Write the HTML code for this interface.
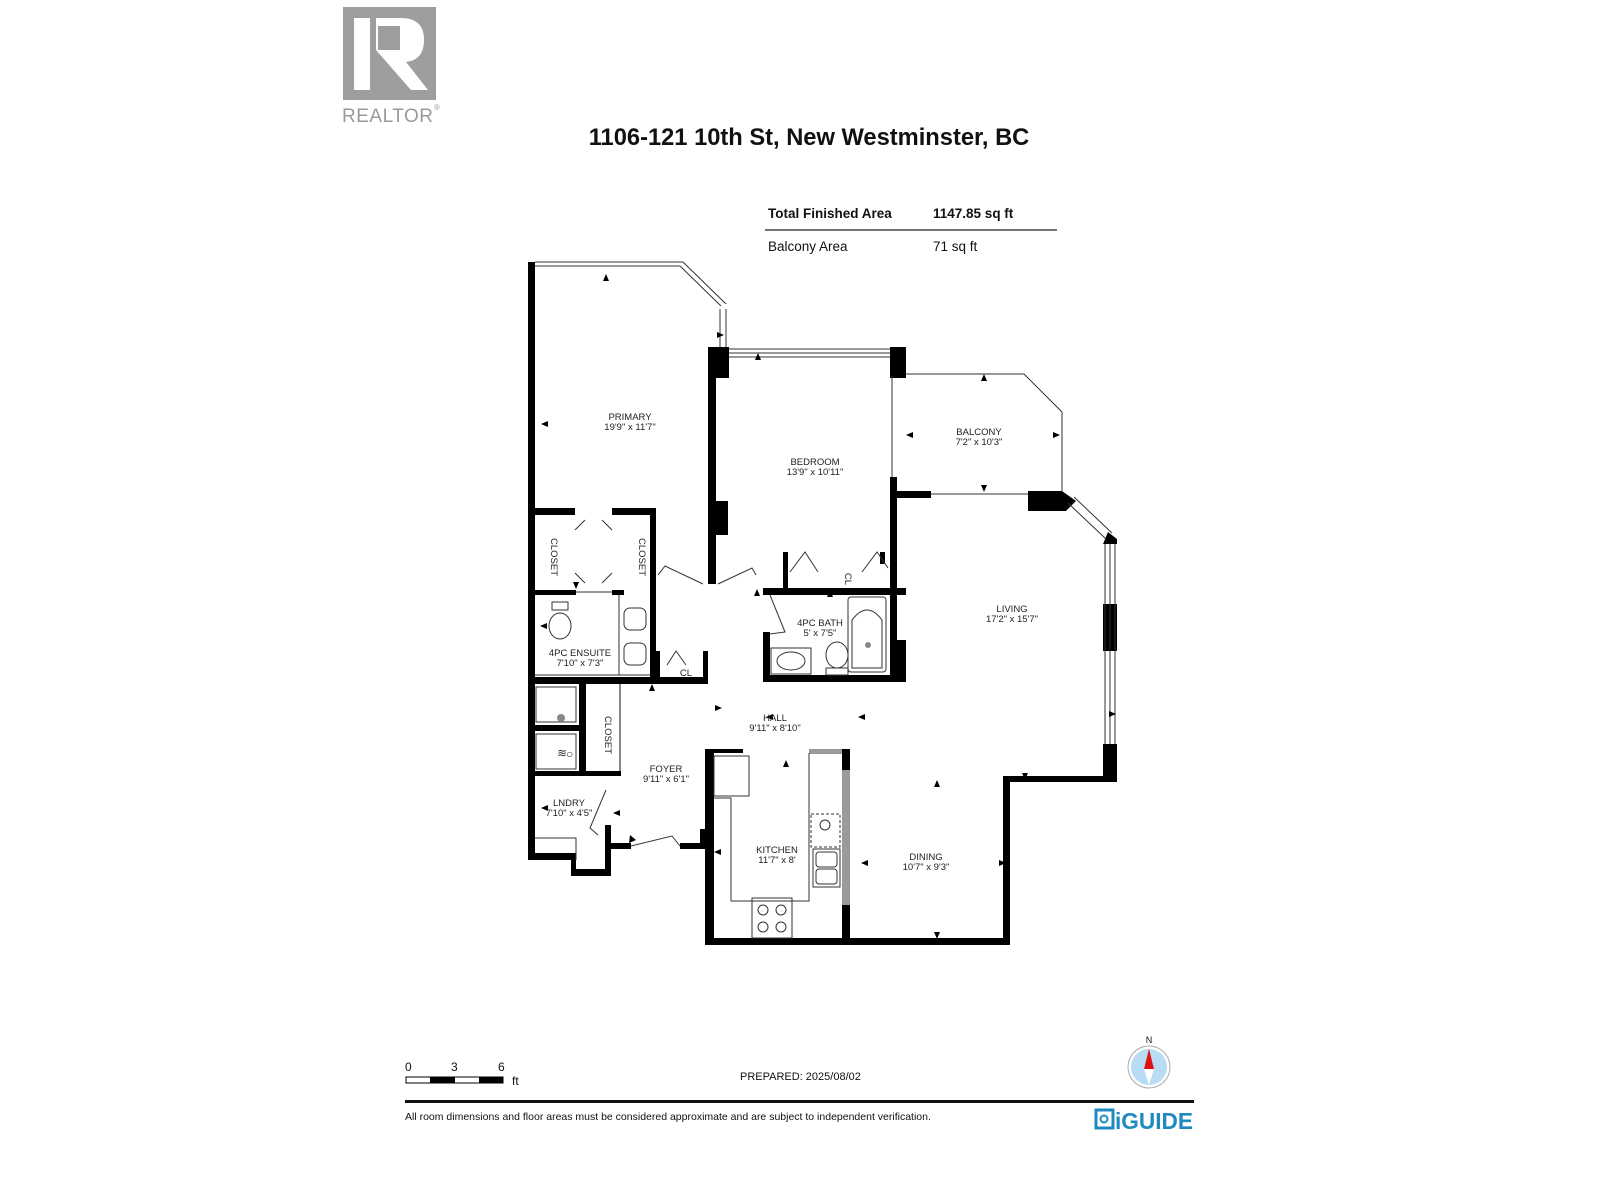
<!DOCTYPE html>
<html><head><meta charset="utf-8"><style>
html,body{margin:0;padding:0;background:#fff;width:1600px;height:1200px;overflow:hidden}
svg{display:block}
text{font-family:"Liberation Sans",sans-serif}
.l{font-size:9.5px;fill:#222;text-anchor:middle}
</style></head><body>
<svg width="1600" height="1200" viewBox="0 0 1600 1200" xmlns="http://www.w3.org/2000/svg">
<rect x="343" y="7" width="93" height="93" fill="#9e9e9e"/>
<rect x="354" y="18" width="16" height="72" fill="#fff"/>
<path d="M376 18 H401 Q424 18 424 40 Q424 60 406 62 L428 90 H411 L376 50 Z" fill="#fff"/>
<rect x="378" y="26" width="22" height="24" fill="#9e9e9e"/>
<text x="342" y="122" font-size="19" fill="#9a9a9a" letter-spacing="0.5">REALTOR</text>
<text x="434" y="110" font-size="8" fill="#9a9a9a">®</text>
<text x="809" y="145" font-size="23.7" font-weight="bold" text-anchor="middle" fill="#111">1106-121 10th St, New Westminster, BC</text>
<text x="768" y="218" font-size="13.5" font-weight="bold" fill="#111">Total Finished Area</text>
<text x="933" y="218" font-size="13.5" font-weight="bold" fill="#111">1147.85 sq ft</text>
<line x1="765" y1="230" x2="1057" y2="230" stroke="#222" stroke-width="1.2"/>
<text x="768" y="251" font-size="13.5" fill="#111">Balcony Area</text>
<text x="933" y="251" font-size="13.5" fill="#111">71 sq ft</text>

<g fill="#000">
<rect x="528" y="262" width="7" height="598"/>
<rect x="708" y="347" width="21" height="31"/>
<rect x="708" y="378" width="8" height="206"/>
<rect x="708" y="501" width="20" height="34"/>
<rect x="890" y="347" width="16" height="31"/>
<rect x="890" y="477" width="7" height="205"/>
<rect x="896" y="640" width="10" height="42"/>
<rect x="896" y="491" width="35" height="7"/>
<polygon points="1028,491 1062,491 1076,501 1066,511 1028,511"/>
<polygon points="1108,532 1117,539 1117,544 1103,544"/>
<rect x="1103" y="604" width="14" height="47"/>
<rect x="1103" y="744" width="14" height="37"/>
<rect x="1003" y="776" width="114" height="6"/>
<rect x="1003" y="776" width="7" height="169"/>
<rect x="705" y="938" width="305" height="7"/>
<rect x="705" y="749" width="9" height="196"/>
<rect x="705" y="749" width="38" height="4"/>
<rect x="842" y="749" width="8" height="21"/>
<rect x="842" y="905" width="8" height="40"/>
<rect x="528" y="508" width="47" height="7"/>
<rect x="612" y="508" width="43" height="7"/>
<rect x="650" y="508" width="6" height="176"/>
<rect x="528" y="590" width="48" height="5"/>
<rect x="612" y="590" width="12" height="5"/>
<rect x="528" y="677" width="180" height="7"/>
<rect x="655" y="651" width="5" height="33"/>
<rect x="703" y="651" width="5" height="33"/>
<rect x="579" y="677" width="7" height="99"/>
<rect x="528" y="771" width="93" height="5"/>
<rect x="528" y="725" width="51" height="6"/>
<rect x="528" y="853" width="48" height="7"/>
<rect x="571" y="853" width="5" height="23"/>
<rect x="571" y="869" width="40" height="7"/>
<rect x="605" y="825" width="6" height="51"/>
<rect x="605" y="843" width="26" height="6"/>
<rect x="680" y="843" width="26" height="6"/>
<rect x="700" y="829" width="14" height="20"/>
<rect x="763" y="588" width="143" height="7"/>
<rect x="763" y="632" width="7" height="50"/>
<rect x="763" y="675" width="143" height="7"/>
<rect x="783" y="552" width="5" height="40"/>
<rect x="880" y="552" width="5" height="12"/>
</g>
<rect x="842" y="770" width="8" height="135" fill="#9a9a9a"/>
<rect x="809" y="749" width="33" height="5" fill="#9a9a9a"/>

<g fill="none" stroke="#333" stroke-width="1">
<path d="M535 262 H683 M535 266 H680"/>
<path d="M683 262 L726 304 M680 266 L721 306"/>
<path d="M720 309 V347 M726 309 V347"/>
<path d="M729 349 H890 M729 353 H890 M729 357 H890"/>
<path d="M906 374 H1024 L1062 412 V492"/>
<path d="M892 376 V477"/>
<path d="M931 494 H1028"/>
<path d="M1074 497 L1112 533 M1068 503 L1106 539"/>
<path d="M1105 544 V744 M1110 544 V744 M1115 544 V744"/>
<path d="M575 530 L585 520 M575 573 L585 583 M612 530 L602 520 M612 573 L602 583"/>
<path d="M576 592 H612"/>
<path d="M658 575 L665 566 L703 584 M718 584 L752 568 L756 575"/>
<path d="M790 572 L805 552 L818 572 M862 572 L877 552 L888 568"/>
<path d="M770 595 L785 632 L770 634"/>
<path d="M606 790 L590 828 L598 835"/>
<path d="M631 846 L672 836 L680 846"/>
<path d="M667 665 L676 651 L686 665"/>
<path d="M619 595 V675 M535 675 H650"/>
<ellipse cx="560" cy="626" rx="11" ry="13"/>
<rect x="552" y="602" width="16" height="8"/>
<rect x="624" y="608" width="22" height="22" rx="6"/>
<rect x="624" y="643" width="22" height="22" rx="6"/>
<rect x="536" y="687" width="40" height="35"/>
<rect x="536" y="734" width="40" height="35"/>
<path d="M620 684 V771" stroke="#888" stroke-width="2"/>
<path d="M535 838 H576 V860"/>
<rect x="714" y="756" width="35" height="40"/>
<path d="M714 798 H731 V901 H809 V753"/>
<rect x="752" y="898" width="40" height="40"/>
<circle cx="763" cy="910" r="5"/><circle cx="781" cy="910" r="5"/>
<circle cx="763" cy="927" r="5"/><circle cx="781" cy="927" r="5"/>
<rect x="811" y="814" width="29" height="33" stroke-dasharray="3,2"/>
<circle cx="825" cy="825" r="5"/>
<rect x="813" y="849" width="27" height="38"/>
<rect x="816" y="852" width="21" height="15" rx="3"/>
<rect x="816" y="869" width="21" height="15" rx="3"/>
<rect x="848" y="597" width="38" height="75" rx="3"/>
<path d="M852 668 V620 Q867 600 882 620 V668 Z"/>
<rect x="771" y="648" width="40" height="26"/>
<ellipse cx="791" cy="661" rx="14" ry="9"/>
<ellipse cx="837" cy="655" rx="11" ry="13"/>
<rect x="826" y="668" width="22" height="7"/>
</g>
<circle cx="561" cy="718" r="4" fill="#888"/>
<circle cx="868" cy="645" r="3" fill="#888"/>
<text x="557" y="757" font-size="12" fill="#333">≋</text>
<text x="566" y="758" font-size="12" fill="#333">○</text>

<g fill="#000">
<polygon points="606,274 603,281 609,281"/><polygon points="541,424 548,421 548,427"/>
<polygon points="724,335 717,332 717,338"/><polygon points="758,353 755,360 761,360"/>
<polygon points="984,374 981,381 987,381"/><polygon points="906,435 913,432 913,438"/>
<polygon points="1060,435 1053,432 1053,438"/><polygon points="984,492 981,485 987,485"/>
<polygon points="1033,497 1030,504 1036,504"/><polygon points="1116,714 1109,711 1109,717"/>
<polygon points="1025,780 1022,773 1028,773"/><polygon points="937,780 934,787 940,787"/>
<polygon points="937,939 934,932 940,932"/><polygon points="1006,863 999,860 999,866"/>
<polygon points="861,863 868,860 868,866"/><polygon points="714,852 721,849 721,855"/>
<polygon points="786,760 783,767 789,767"/><polygon points="858,717 865,714 865,720"/>
<polygon points="766,717 773,714 773,720"/><polygon points="722,708 715,705 715,711"/>
<polygon points="652,684 649,691 655,691"/><polygon points="757,589 754,596 760,596"/>
<polygon points="830,590 827,597 833,597"/><polygon points="542,860 539,853 545,853"/>
<polygon points="541,808 548,805 548,811"/><polygon points="613,813 620,810 620,816"/>
<polygon points="636,840 630,835 629,843"/><polygon points="576,589 573,582 579,582"/>
<polygon points="540,626 547,623 547,629"/>
</g>

<text class="l" x="630" y="420">PRIMARY</text><text class="l" x="630" y="430">19'9" x 11'7"</text>
<text class="l" x="815" y="465">BEDROOM</text><text class="l" x="815" y="475">13'9" x 10'11"</text>
<text class="l" x="979" y="435">BALCONY</text><text class="l" x="979" y="445">7'2" x 10'3"</text>
<text class="l" x="1012" y="612">LIVING</text><text class="l" x="1012" y="622">17'2" x 15'7"</text>
<text class="l" x="820" y="626">4PC BATH</text><text class="l" x="820" y="636">5' x 7'5"</text>
<text class="l" x="580" y="656">4PC ENSUITE</text><text class="l" x="580" y="666">7'10" x 7'3"</text>
<text class="l" x="686" y="676">CL</text>
<text class="l" x="775" y="721">HALL</text><text class="l" x="775" y="731">9'11" x 8'10"</text>
<text class="l" x="666" y="772">FOYER</text><text class="l" x="666" y="782">9'11" x 6'1"</text>
<text class="l" x="569" y="806">LNDRY</text><text class="l" x="569" y="816">7'10" x 4'5"</text>
<text class="l" x="777" y="853">KITCHEN</text><text class="l" x="777" y="863">11'7" x 8'</text>
<text class="l" x="926" y="860">DINING</text><text class="l" x="926" y="870">10'7" x 9'3"</text>
<text class="l" transform="translate(551,557) rotate(90)">CLOSET</text>
<text class="l" transform="translate(639,557) rotate(90)">CLOSET</text>
<text class="l" transform="translate(605,735) rotate(90)">CLOSET</text>
<text class="l" transform="translate(845,579) rotate(90)">CL</text>

<text x="405" y="1071" font-size="12" fill="#111">0</text>
<text x="451" y="1071" font-size="12" fill="#111">3</text>
<text x="498" y="1071" font-size="12" fill="#111">6</text>
<rect x="406" y="1077" width="97" height="6" fill="#fff" stroke="#000" stroke-width="1"/>
<rect x="430" y="1077" width="25" height="6" fill="#000"/>
<rect x="479" y="1077" width="24" height="6" fill="#000"/>
<text x="512" y="1085" font-size="12" fill="#111">ft</text>
<text x="740" y="1080" font-size="11" fill="#111">PREPARED: 2025/08/02</text>
<text x="1149" y="1043" font-size="9" fill="#111" text-anchor="middle">N</text>
<circle cx="1149" cy="1067" r="21" fill="#fff" stroke="#aaa" stroke-width="1"/>
<circle cx="1149" cy="1067" r="18" fill="#b8dcf3"/>
<polygon points="1149,1049 1154,1069 1144,1069" fill="#e01010"/>
<polygon points="1149,1085 1154,1069 1144,1069" fill="#fff"/>
<rect x="405" y="1100" width="789" height="3" fill="#111"/>
<text x="405" y="1120" font-size="10.5" fill="#111">All room dimensions and floor areas must be considered approximate and are subject to independent verification.</text>
<rect x="1096" y="1110" width="17" height="18" fill="none" stroke="#1f8ac0" stroke-width="3"/>
<circle cx="1104" cy="1119" r="3.5" fill="none" stroke="#1f8ac0" stroke-width="2"/>
<text x="1115" y="1129" font-size="23" font-weight="bold" fill="#1f8ac0" textLength="78" lengthAdjust="spacingAndGlyphs">iGUIDE</text>
</svg>
</body></html>
